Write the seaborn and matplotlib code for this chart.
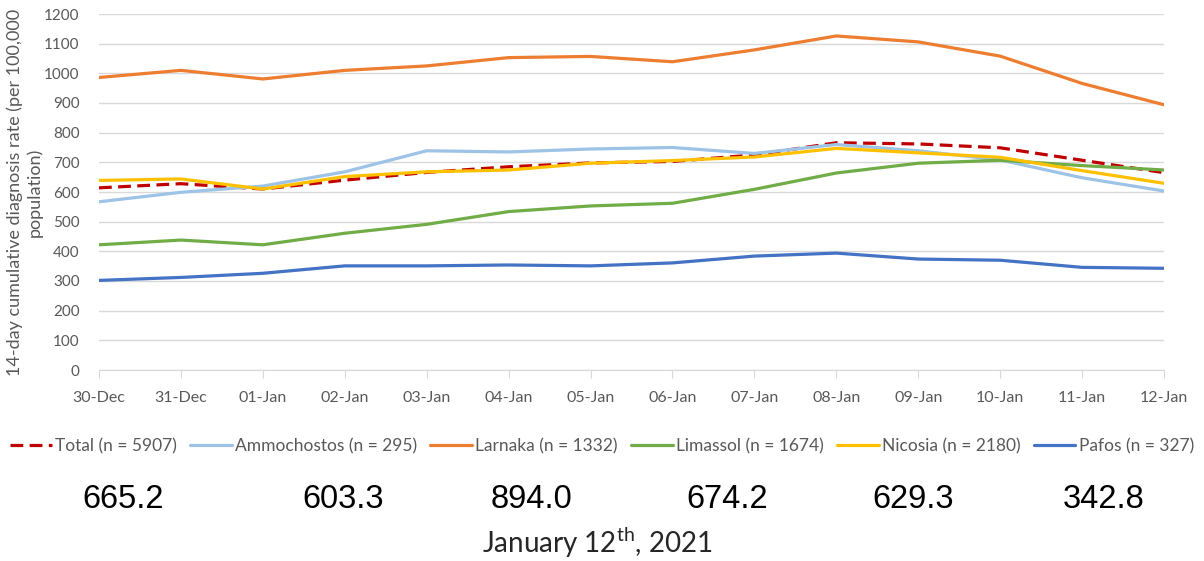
import numpy as np
import pandas as pd
import seaborn as sns
import matplotlib.pyplot as plt

# data
dates = ['30-Dec', '31-Dec', '01-Jan', '02-Jan', '03-Jan', '04-Jan', '05-Jan',
         '06-Jan', '07-Jan', '08-Jan', '09-Jan', '10-Jan', '11-Jan', '12-Jan']

total = [614, 628, 610, 640, 666, 685, 698, 703, 725, 766, 762, 749, 707, 665.2]
ammochostos = [567, 599, 620, 668, 739, 735, 745, 750, 730, 760, 739, 708, 648, 603.3]
larnaka = [986, 1010, 981, 1010, 1025, 1053, 1057, 1039, 1079, 1126, 1106, 1058, 966, 894.0]
limassol = [422, 438, 422, 461, 491, 534, 553, 562, 609, 664, 697, 707, 689, 674.2]
nicosia = [639, 644, 610, 652, 668, 674, 697, 706, 718, 747, 732, 717, 672, 629.3]
pafos = [302, 312, 326, 351, 351, 354, 351, 361, 384, 394, 374, 370, 346, 342.8]

series_names = ['Total (n = 5907)', 'Ammochostos (n = 295)', 'Larnaka (n = 1332)',
                'Limassol (n = 1674)', 'Nicosia (n = 2180)', 'Pafos (n = 327)']
series_values = [total, ammochostos, larnaka, limassol, nicosia, pafos]
latest_values = ['665.2', '603.3', '894.0', '674.2', '629.3', '342.8']

colors = ['#c00000', '#9dc3e6', '#ed7d31', '#70ad47', '#ffc000', '#4472c4']

df = pd.DataFrame({
    'date': dates * len(series_names),
    'rate': np.concatenate(series_values),
    'region': np.repeat(series_names, len(dates)),
})

sns.set_style('white')
plt.rcParams['font.family'] = ['Lato', 'DejaVu Sans']
plt.rcParams['mathtext.fontset'] = 'custom'
plt.rcParams['mathtext.rm'] = 'Lato'

fig = plt.figure(figsize=(12.04, 5.61), dpi=100)
ax = fig.add_axes([99 / 1204, 1 - 370 / 561, 1065 / 1204, 356 / 561])

dash_map = {n: '' for n in series_names}
dash_map[series_names[0]] = (4, 2)
sns.lineplot(data=df, x='date', y='rate', hue='region', style='region',
             palette=dict(zip(series_names, colors)), dashes=dash_map,
             linewidth=2.3, ax=ax, sort=False)

ax.set_xlim(0, len(dates) - 1)
ax.set_ylim(0, 1200)
ax.set_yticks(range(0, 1201, 100))
ax.grid(axis='y', color='#d9d9d9', linewidth=1)
ax.set_axisbelow(True)
for s in ['top', 'right', 'left']:
    ax.spines[s].set_visible(False)
ax.spines['bottom'].set_color('#d9d9d9')
ax.tick_params(axis='x', length=6, color='#d9d9d9', direction='out', pad=9,
               labelsize=11.5, labelcolor='#595959', bottom=True)
ax.tick_params(axis='y', length=0, pad=14, labelsize=11, labelcolor='#595959')
ax.set_xlabel('')
ax.set_ylabel('14-day cumulative diagnosis rate (per 100,000\npopulation)',
              fontsize=13, color='#595959', linespacing=1.25)
ax.yaxis.set_label_coords(-0.053, 0.5)

handles, labels = ax.get_legend_handles_labels()
ax.legend_.remove()
fig.legend(handles, labels, loc='center', bbox_to_anchor=(0.5, 1 - 446 / 561),
           ncol=6, frameon=False, fontsize=12.5, handlelength=2.4,
           handletextpad=0.2, columnspacing=0.75, labelcolor='#595959')

centers = [123, 343, 532, 727, 913, 1104]
for cx, val in zip(centers, latest_values):
    fig.text(cx / 1204, 1 - 499 / 561, val, ha='center', va='center',
             fontsize=23.5, family='Liberation Sans', color='black')
fig.text(597 / 1204, 1 - 543 / 561, r'January 12$^{\mathrm{th}}$, 2021',
         ha='center', va='center', fontsize=20)

fig.savefig('out.png', dpi=100)
